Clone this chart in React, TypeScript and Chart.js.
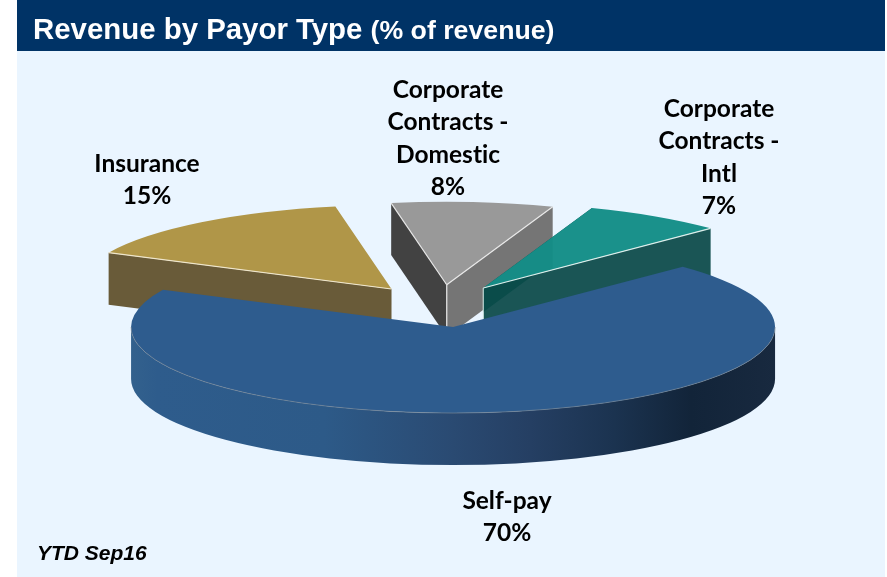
import React, { useEffect, useRef } from "react";
import { Chart, registerables } from "chart.js";

Chart.register(...registerables);

const categories = ["Self-pay", "Insurance", "Corporate Contracts - Domestic", "Corporate Contracts - Intl"];
const labelLines = [["Self-pay"], ["Insurance"], ["Corporate", "Contracts -", "Domestic"], ["Corporate", "Contracts -", "Intl"]];
const values = [69.5, 15.0, 8.4, 7.1];
const topColors = ["#2E5C8E", "#B09648", "#999999", "#1A918B"];

const labelCentres = [[507, 501], [147, 164], [448, 90], [719, 109]];
const drawOrder = [1, 2, 3, 0];
const radialScale = [1, 0.975, 0.965, 0.99];
const EXPLODE = 80;
const SQUASH = 0.267;
const DEPTH = 52;
const LABEL_LINE = 32.3;
const LABEL_FONT = "bold 24.5px Lato";

const pie3d = {
  id: "pie3d",
  beforeDatasetsDraw(chart: any) {
    const ctx: CanvasRenderingContext2D = chart.ctx;
    const arcs = chart.getDatasetMeta(0).data;

    const frame = (i: number) => {
      const el = arcs[i];
      const mid = (el.startAngle + el.endAngle) / 2;
      const ex = Math.cos(mid) * EXPLODE;
      const ey = Math.sin(mid) * EXPLODE;
      const r = el.outerRadius * radialScale[i];
      const cx = el.x + ex;
      const cy = el.y + ey * SQUASH;
      const pt = (a: number, z = 0): [number, number] => [
        cx + Math.cos(a) * r,
        cy + Math.sin(a) * r * SQUASH + z,
      ];
      return { el, r, cx, cy, pt };
    };

    const radialWall = (i: number, angle: number, color: string, depth = DEPTH) => {
      const { cx, cy, pt } = frame(i);
      const t = pt(angle);
      const b = pt(angle, depth);
      ctx.beginPath();
      ctx.moveTo(cx, cy);
      ctx.lineTo(t[0], t[1]);
      ctx.lineTo(b[0], b[1]);
      ctx.lineTo(cx, cy + depth);
      ctx.closePath();
      ctx.fillStyle = color;
      ctx.fill();
    };

    const edge = (i: number, angle: number, color: string, width = 1.2) => {
      const { cx, cy, pt } = frame(i);
      const t = pt(angle);
      ctx.beginPath();
      ctx.moveTo(cx, cy);
      ctx.lineTo(t[0], t[1]);
      ctx.strokeStyle = color;
      ctx.lineWidth = width;
      ctx.stroke();
    };

    const topFace = (i: number) => {
      const { el, r, cx, cy } = frame(i);
      ctx.save();
      ctx.translate(cx, cy);
      ctx.scale(r / el.outerRadius, (r / el.outerRadius) * SQUASH);
      ctx.translate(-el.x, -el.y);
      el.draw(ctx);
      ctx.restore();
    };

    drawOrder.forEach((i) => {
      const { el, r, cx, cy, pt } = frame(i);
      if (i === 1) {
        radialWall(i, el.startAngle, "#695B39");
        topFace(i);
        edge(i, el.startAngle, "#EFE6CC");
      } else if (i === 2) {
        radialWall(i, el.startAngle, "#424242");
        radialWall(i, el.endAngle, "#757575");
        topFace(i);
        edge(i, el.startAngle, "#E4E4E4");
        edge(i, el.endAngle, "#E8E8E8");
        ctx.beginPath();
        ctx.moveTo(cx, cy);
        ctx.lineTo(cx, cy + DEPTH);
        ctx.strokeStyle = "#D8D8D8";
        ctx.lineWidth = 1.4;
        ctx.stroke();
      } else if (i === 3) {
        radialWall(i, el.endAngle, "#1A5555");
        radialWall(i, el.startAngle, "#0A4C4A", 24);
        topFace(i);
        // slight darkening where the neighbouring slice reaches over this face
        const neighbourEnd = frame(2).pt(arcs[2].endAngle);
        ctx.save();
        ctx.beginPath();
        ctx.rect(0, 0, neighbourEnd[0], 577);
        ctx.clip();
        ctx.beginPath();
        ctx.moveTo(cx, cy);
        ctx.ellipse(cx, cy, r, r * SQUASH, 0, el.startAngle, el.endAngle);
        ctx.closePath();
        ctx.fillStyle = "rgba(0,110,105,0.14)";
        ctx.fill();
        ctx.restore();
        edge(i, el.endAngle, "#DDEFEC");
        ctx.beginPath();
        ctx.moveTo(cx, cy);
        ctx.lineTo(cx, cy + DEPTH);
        ctx.strokeStyle = "#DDEFEC";
        ctx.lineWidth = 1;
        ctx.stroke();
      } else {
        const g = ctx.createLinearGradient(cx - r, 0, cx + r, 0);
        g.addColorStop(0, "#33618D");
        g.addColorStop(0.04, "#2E5C8C");
        g.addColorStop(0.3, "#2D5A88");
        g.addColorStop(0.5, "#2A4A72");
        g.addColorStop(0.62, "#253F63");
        g.addColorStop(0.75, "#1B3350");
        g.addColorStop(0.87, "#122439");
        g.addColorStop(1, "#18293F");
        ctx.beginPath();
        ctx.ellipse(cx, cy, r, r * SQUASH, 0, 0, Math.PI);
        ctx.lineTo(cx - r, cy + DEPTH);
        ctx.ellipse(cx, cy + DEPTH, r, r * SQUASH, 0, Math.PI, 0, true);
        ctx.closePath();
        ctx.fillStyle = g;
        ctx.fill();
        topFace(i);
        ctx.beginPath();
        ctx.ellipse(cx, cy, r, r * SQUASH, 0, 0, Math.PI);
        ctx.strokeStyle = "rgba(130,140,150,0.6)";
        ctx.lineWidth = 1;
        ctx.stroke();
      }
    });
    return false;
  },
  afterDraw(chart: any) {
    const ctx: CanvasRenderingContext2D = chart.ctx;
    ctx.save();
    ctx.fillStyle = "#000000";
    ctx.font = LABEL_FONT;
    (ctx as any).textRendering = "optimizeSpeed";
    ctx.textAlign = "center";
    ctx.textBaseline = "middle";
    labelLines.forEach((lines, i) => {
      const [x, y] = labelCentres[i];
      [...lines, `${Math.round(values[i])}%`].forEach((line, k) => {
        ctx.fillText(line, x, y + k * LABEL_LINE);
      });
    });
    ctx.restore();
  },
};

export default function App() {
  const ref = useRef<HTMLCanvasElement>(null);
  useEffect(() => {
    if (!ref.current) return;
    const chart = new Chart(ref.current, {
      type: "pie",
      data: {
        labels: categories,
        datasets: [{ data: values, backgroundColor: topColors, borderWidth: 0 }],
      },
      options: {
        responsive: false,
        animation: false,
        rotation: 45.5,
        radius: 322,
        layout: { padding: { right: 7, top: 35 } },
        events: [],
        plugins: { legend: { display: false }, tooltip: { enabled: false } },
      },
      plugins: [pie3d],
    } as any);
    return () => chart.destroy();
  }, []);

  return (
    <div style={{ position: "absolute", left: 0, top: 0, width: 887, height: 577, overflow: "hidden", background: "#FFFFFF" }}>
      <div style={{ position: "absolute", left: 17, top: 51, width: 868, height: 526, background: "#EAF5FF" }} />
      <div style={{ position: "absolute", left: 17, top: 0, width: 868, height: 51, background: "#003366" }} />
      <canvas ref={ref} width={887} height={577} style={{ position: "absolute", left: 0, top: 0, width: 887, height: 577 }} />
      <div style={{ position: "absolute", left: 33, top: 12, color: "#FFFFFF", fontFamily: "'Liberation Sans'", fontWeight: 700, fontSize: 29.4, lineHeight: "34px", whiteSpace: "nowrap" }}>
        Revenue by Payor Type <span style={{ fontSize: 26.7 }}>(% of revenue)</span>
      </div>
      <div style={{ position: "absolute", left: 37, top: 541, color: "#000000", fontFamily: "'Liberation Sans'", fontWeight: 700, fontStyle: "italic", fontSize: 21, lineHeight: "24px", whiteSpace: "nowrap" }}>
        YTD Sep16
      </div>
    </div>
  );
}
